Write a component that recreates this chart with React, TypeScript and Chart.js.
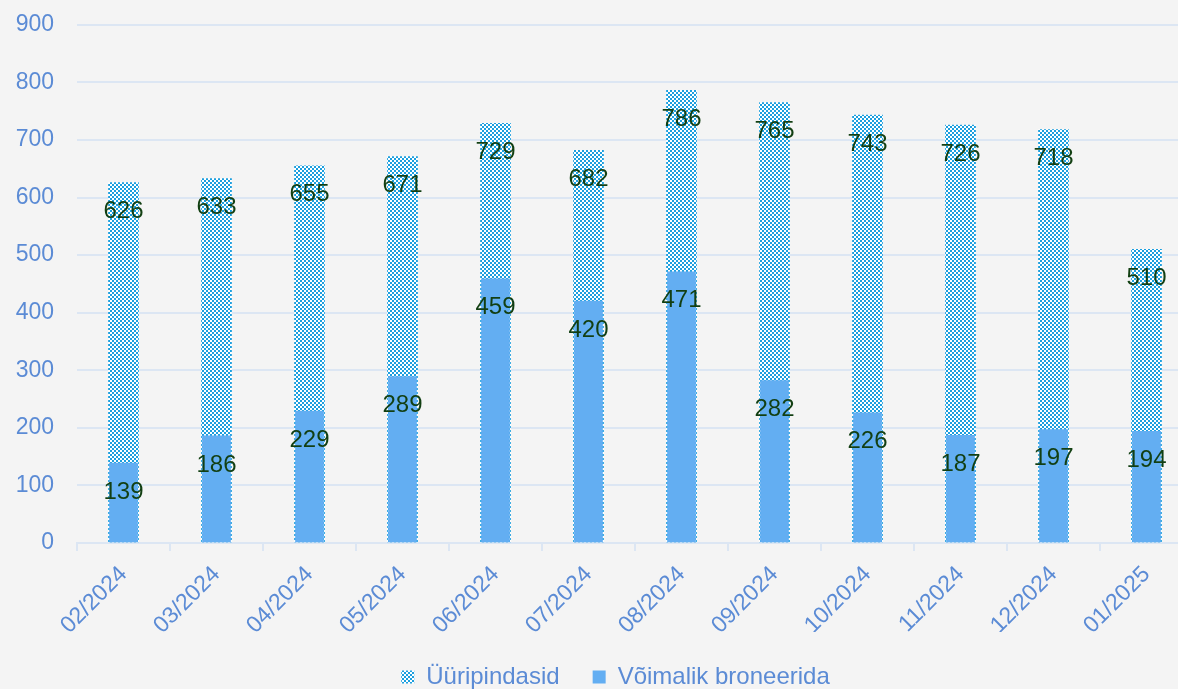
import React, { useEffect, useRef } from "react";
import { Chart, registerables } from "chart.js";

Chart.register(...registerables);

const categories = ["02/2024", "03/2024", "04/2024", "05/2024", "06/2024", "07/2024", "08/2024", "09/2024", "10/2024", "11/2024", "12/2024", "01/2025"];
const rentalSpaces = [626, 633, 655, 671, 729, 682, 786, 765, 743, 726, 718, 510];
const bookable = [139, 186, 229, 289, 459, 420, 471, 282, 226, 187, 197, 194];
const seriesNames = ["Üüripindasid", "Võimalik broneerida"];

const FONT = "Arial, 'Liberation Sans', sans-serif";
const TICK_COLOR = "#5b8bd5";
const GRID_COLOR = "#dce6f3";
const LABEL_COLOR = "#123f12";

function makePattern(): CanvasPattern | string {
  const c = document.createElement("canvas");
  c.width = 4;
  c.height = 4;
  const ctx = c.getContext("2d");
  if (!ctx) return "#1b9bdb";
  ctx.fillStyle = "#ffffff";
  ctx.fillRect(0, 0, 4, 4);
  ctx.fillStyle = "#1b9fdf";
  ctx.fillRect(0, 0, 2, 2);
  ctx.fillRect(2, 2, 2, 2);
  const p = ctx.createPattern(c, "repeat");
  return p || "#1b9bdb";
}

const valueLabels = {
  id: "valueLabels",
  afterDatasetsDraw(chart: any) {
    const ctx = chart.ctx;
    ctx.save();
    ctx.font = `24px ${FONT}`;
    ctx.fillStyle = LABEL_COLOR;
    ctx.textAlign = "center";
    ctx.textBaseline = "middle";
    chart.data.datasets.forEach((ds: any, di: number) => {
      const meta = chart.getDatasetMeta(di);
      meta.data.forEach((bar: any, i: number) => {
        ctx.fillText(String(ds.data[i]), bar.x, bar.y + 29);
      });
    });
    ctx.restore();
  },
};

const legendShift = {
  id: "legendShift",
  afterLayout(chart: any) {
    if (chart.legend) chart.legend.left += 38;
  },
};

export default function App() {
  const ref = useRef<HTMLCanvasElement | null>(null);

  useEffect(() => {
    if (!ref.current) return;
    const pattern = makePattern();
    const chart = new Chart(ref.current, {
      type: "bar",
      data: {
        labels: categories,
        datasets: [
          {
            label: seriesNames[0],
            data: rentalSpaces,
            backgroundColor: pattern as any,
            borderWidth: 0,
            barThickness: 30,
            grouped: false,
            order: 1,
          },
          {
            label: seriesNames[1],
            data: bookable,
            backgroundColor: "#63aef2",
            borderWidth: 0,
            barThickness: 28,
            grouped: false,
            order: 0,
          },
        ],
      },
      options: {
        animation: false,
        responsive: true,
        maintainAspectRatio: false,
        layout: { padding: { top: 0, right: 17, left: 0, bottom: 0 } },
        plugins: {
          tooltip: { enabled: false },
          legend: {
            position: "bottom",
            labels: {
              boxWidth: 13,
              boxHeight: 13,
              padding: 33,
              color: TICK_COLOR,
              font: { size: 24, family: FONT },
              sort: (a: any, b: any) => a.datasetIndex - b.datasetIndex,
            },
          },
        },
        scales: {
          x: {
            offset: true,
            afterFit: (s: any) => {
              s.height = 89;
            },
            grid: {
              offset: true,
              drawOnChartArea: false,
              drawTicks: true,
              tickLength: 8,
              color: GRID_COLOR,
              lineWidth: 2,
            },
            border: { color: GRID_COLOR, width: 2 },
            ticks: {
              color: TICK_COLOR,
              font: { size: 23, family: FONT },
              minRotation: 45,
              maxRotation: 45,
              padding: 10,
              autoSkip: false,
            },
          },
          y: {
            min: 0,
            max: 900,
            afterFit: (s: any) => {
              s.width = 77;
            },
            grid: {
              color: GRID_COLOR,
              lineWidth: 2,
              drawTicks: true,
              tickLength: 12,
              tickColor: "rgba(0,0,0,0)",
            },
            border: { display: false },
            ticks: {
              stepSize: 100,
              color: TICK_COLOR,
              font: { size: 23, family: FONT },
              padding: 11,
            },
          },
        },
      },
      plugins: [valueLabels, legendShift],
    });
    return () => chart.destroy();
  }, []);

  return (
    <div style={{ position: "fixed", left: 0, top: 0, width: 1178, height: 689, overflow: "hidden", background: "#f4f4f4" }}>
      <div style={{ position: "relative", width: 1210, height: 699 }}>
        <canvas ref={ref} />
      </div>
    </div>
  );
}
